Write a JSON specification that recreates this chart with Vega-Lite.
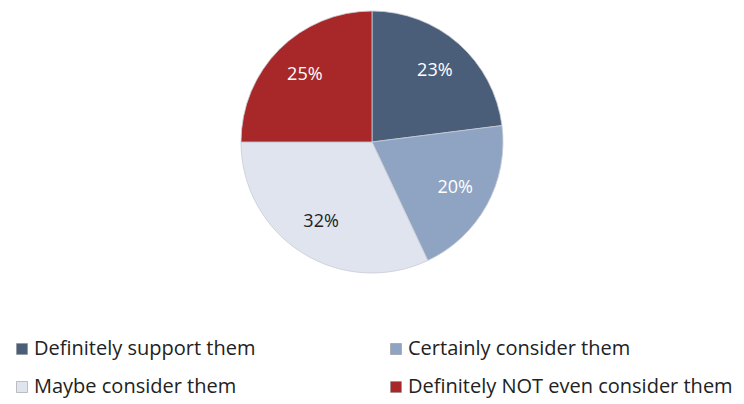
{
  "$schema": "https://vega.github.io/schema/vega-lite/v6.json",
  "width": 744,
  "height": 284,
  "autosize": {"type": "none"},
  "padding": {"top": 0, "left": 0, "right": 0, "bottom": 120},
  "background": "#ffffff",
  "config": {"view": {"stroke": null}, "font": "Open Sans"},
  "data": {
    "values": [
      {"category": "Definitely support them", "value": 23, "order": 1, "label": "23%"},
      {"category": "Certainly consider them", "value": 20, "order": 2, "label": "20%"},
      {"category": "Maybe consider them", "value": 32, "order": 3, "label": "32%"},
      {"category": "Definitely NOT even consider them", "value": 25, "order": 4, "label": "25%"}
    ]
  },
  "encoding": {
    "theta": {"field": "value", "type": "quantitative", "stack": true},
    "order": {"field": "order", "type": "quantitative"}
  },
  "layer": [
    {
      "mark": {"type": "arc", "outerRadius": 131, "stroke": "#c8ccd4", "strokeWidth": 0.8},
      "encoding": {
        "color": {
          "field": "category",
          "type": "nominal",
          "scale": {
            "domain": ["Definitely support them", "Certainly consider them", "Maybe consider them", "Definitely NOT even consider them"],
            "range": ["#4a5e7a", "#8fa4c2", "#dfe4ee", "#a8282a"]
          },
          "legend": {
            "title": null,
            "orient": "none",
            "legendX": 12,
            "legendY": 339,
            "direction": "horizontal",
            "columns": 2,
            "columnPadding": 130,
            "rowPadding": 18,
            "padding": 0,
            "symbolType": "square",
            "symbolSize": 121,
            "symbolStrokeWidth": 0.5,
            "symbolStrokeColor": "#888888",
            "labelFont": "Open Sans",
            "labelFontSize": 20,
            "labelColor": "#222222",
            "labelOffset": 2,
            "labelLimit": 400
          }
        }
      }
    },
    {
      "mark": {"type": "text", "radius": 95, "font": "Open Sans", "fontSize": 18},
      "encoding": {
        "text": {"field": "label"},
        "color": {
          "condition": {"test": "datum.category === 'Maybe consider them'", "value": "#222222"},
          "value": "#ffffff"
        }
      }
    }
  ]
}
